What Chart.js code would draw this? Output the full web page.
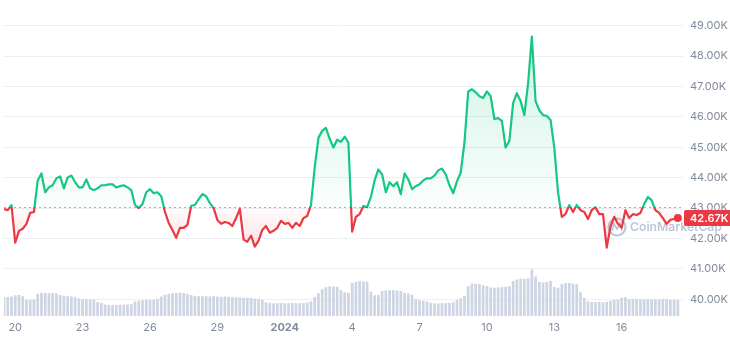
<!DOCTYPE html>
<html>
<head>
<meta charset="utf-8">
<script src="https://cdn.jsdelivr.net/npm/chart.js@4.4.1/dist/chart.umd.min.js"></script>
<style>
    html, body { margin: 0; padding: 0; background: #ffffff; }
    canvas { display: block; }
</style>
</head>
<body>
<canvas id="btcChart" width="730" height="338"></canvas>
<script>

const OPEN_PRICE = 43.04;      // K USD, reference line for up / down colouring
const START_DAY = -0.5;        // Dec 19, 12:00 (day 0 = Dec 20)
const STEP_DAYS = 1 / 6;       // one sample every 4 hours

const UP = '#16c784';
const DOWN = '#ea3943';
const AXIS_TEXT = '#808a9d';

// BTC price, thousands of USD
const prices = [
    42.97, 42.93, 43.10, 41.86, 42.25, 42.32, 42.48, 42.84, 42.87, 43.91,
    44.14, 43.52, 43.68, 43.75, 43.98, 44.04, 43.65, 44.01, 44.07, 43.85,
    43.68, 43.68, 43.94, 43.65, 43.59, 43.65, 43.75, 43.75, 43.78, 43.78,
    43.68, 43.72, 43.75, 43.68, 43.59, 43.10, 43.00, 43.13, 43.52, 43.62,
    43.49, 43.52, 43.39, 42.87, 42.51, 42.28, 42.02, 42.35, 42.35, 42.45,
    43.07, 43.10, 43.29, 43.46, 43.39, 43.16, 43.00, 42.61, 42.48, 42.54,
    42.51, 42.41, 42.67, 42.97, 41.96, 41.89, 42.09, 41.73, 41.93, 42.28,
    42.41, 42.19, 42.25, 42.35, 42.58, 42.48, 42.51, 42.35, 42.51, 42.41,
    42.67, 42.74, 43.10, 44.34, 45.31, 45.54, 45.64, 45.28, 44.99, 45.25,
    45.18, 45.35, 45.15, 42.22, 42.71, 42.80, 43.07, 43.03, 43.36, 43.91,
    44.27, 44.11, 43.52, 43.85, 43.72, 43.85, 43.46, 44.14, 43.94, 43.62,
    43.72, 43.78, 43.91, 43.98, 43.98, 44.07, 44.24, 44.30, 44.11, 43.75,
    43.49, 43.88, 44.17, 45.15, 46.84, 46.91, 46.81, 46.68, 46.62, 46.84,
    46.68, 45.93, 45.96, 45.87, 44.99, 45.21, 46.45, 46.78, 46.52, 46.06,
    47.10, 48.64, 46.52, 46.22, 46.06, 46.03, 45.90, 44.99, 43.52, 42.71,
    42.80, 43.10, 42.87, 43.10, 42.93, 42.87, 42.64, 42.93, 43.03, 42.80,
    42.80, 41.70, 42.38, 42.71, 42.48, 42.35, 42.93, 42.67, 42.80, 42.77,
    42.84, 43.13, 43.36, 43.26, 42.93, 42.84, 42.67, 42.48, 42.61, 42.64,
    42.67
];

// traded volume per 4h bucket, billions of USD
const volumes = [
    6.2, 6.3, 6.4, 6.8, 6.9, 6.5, 5.3, 5.2, 5.4, 7.3,
    7.6, 7.6, 7.5, 7.6, 7.4, 6.9, 6.7, 6.5, 6.4, 6.3,
    5.8, 5.6, 5.5, 5.5, 5.4, 4.6, 4.3, 3.8, 3.6, 3.6,
    3.6, 3.7, 3.7, 3.8, 3.9, 4.8, 5.1, 5.2, 5.3, 5.2,
    5.3, 5.6, 6.4, 7.0, 7.3, 7.5, 7.6, 7.7, 7.5, 7.3,
    6.9, 6.6, 6.5, 6.5, 6.5, 6.4, 6.5, 6.4, 6.3, 6.4,
    6.3, 6.2, 6.2, 6.1, 6.0, 6.0, 5.9, 5.7, 5.6, 5.3,
    4.5, 4.3, 4.2, 4.2, 4.3, 4.2, 4.2, 4.3, 4.2, 4.2,
    4.3, 4.4, 4.8, 6.3, 7.5, 8.8, 9.5, 9.8, 9.7, 9.6,
    8.5, 7.8, 7.6, 10.8, 11.2, 11.4, 11.4, 11.3, 8.0, 6.8,
    6.9, 8.2, 8.4, 8.5, 8.5, 8.4, 8.3, 7.6, 7.4, 7.0,
    5.5, 5.2, 5.0, 4.8, 4.3, 4.2, 4.1, 4.2, 4.3, 4.3,
    4.5, 5.3, 5.8, 6.6, 9.8, 10.7, 10.6, 10.5, 10.1, 9.8,
    9.4, 9.3, 9.4, 9.5, 9.6, 9.8, 11.5, 12.0, 12.3, 12.2,
    12.4, 15.3, 13.0, 11.2, 11.0, 11.2, 11.6, 9.5, 9.3, 10.5,
    10.8, 10.9, 10.7, 10.5, 7.8, 6.0, 4.8, 4.6, 4.5, 4.6,
    4.5, 4.7, 5.0, 5.3, 5.4, 6.0, 6.2, 5.6, 5.5, 5.6,
    5.4, 5.5, 5.6, 5.5, 5.5, 5.4, 5.6, 5.5, 5.3, 5.3,
    5.2
];

const dayTicks = [0, 3, 6, 9, 12, 15, 18, 21, 24, 27];
const dayLabels = ['20', '23', '26', '29', '2024', '4', '7', '10', '13', '16'];
const priceTicks = [40, 41, 42, 43, 44, 45, 46, 47, 48, 49];


function toPoints(values) {

    return values.map((v, i) => ({ x: START_DAY + i * STEP_DAYS, y: v }));
}


// fraction of the chart height where the open price sits
function openFraction(chart) {

    const { chartArea, scales } = chart;
    const y0 = scales.y.getPixelForValue(OPEN_PRICE);
    const f = (y0 - chartArea.top) / (chartArea.bottom - chartArea.top);
    return Math.min(Math.max(f, 0), 1);
}


function lineColor(context) {

    const chart = context.chart;
    if (!chart.chartArea || !chart.scales.y) {
        return UP;
    }
    const { top, bottom } = chart.chartArea;
    const f = openFraction(chart);
    const g = chart.ctx.createLinearGradient(0, top, 0, bottom);
    g.addColorStop(0, UP);
    g.addColorStop(f, UP);
    g.addColorStop(f, DOWN);
    g.addColorStop(1, DOWN);
    return g;
}


function areaColor(context) {

    const chart = context.chart;
    if (!chart.chartArea || !chart.scales.y) {
        return 'rgba(22, 199, 132, 0.1)';
    }
    const { top, bottom } = chart.chartArea;
    const f = openFraction(chart);
    const g = chart.ctx.createLinearGradient(0, top, 0, bottom);
    g.addColorStop(0, 'rgba(22, 199, 132, 0.24)');
    g.addColorStop(f, 'rgba(22, 199, 132, 0.02)');
    g.addColorStop(f, 'rgba(234, 57, 67, 0.02)');
    g.addColorStop(1, 'rgba(234, 57, 67, 0.34)');
    return g;
}


const overlayPlugin = {

    id: 'overlay',

    // watermark sits under the grid and axis labels
    beforeDraw(chart) {

        const { ctx } = chart;

        ctx.save();
        ctx.strokeStyle = 'rgba(160, 173, 199, 0.7)';
        ctx.fillStyle = 'rgba(160, 173, 199, 0.7)';
        ctx.lineWidth = 2;
        ctx.beginPath();
        ctx.arc(617, 227, 8.5, 0, Math.PI * 2);
        ctx.stroke();
        ctx.lineWidth = 1.6;
        ctx.beginPath();
        ctx.moveTo(612, 231);
        ctx.lineTo(614, 223.5);
        ctx.lineTo(617, 229);
        ctx.lineTo(620, 223.5);
        ctx.lineTo(622, 231);
        ctx.stroke();
        ctx.font = '600 16px Inter';
        const w = ctx.measureText('CoinMarketCap').width;
        ctx.font = '600 ' + (16 * 92 / w).toFixed(2) + 'px Inter';
        ctx.textBaseline = 'middle';
        ctx.textAlign = 'left';
        ctx.fillText('CoinMarketCap', 630, 227);
        ctx.restore();
    },

    beforeDatasetsDraw(chart) {

        const { ctx, chartArea, scales } = chart;
        const y0 = Math.round(scales.y.getPixelForValue(OPEN_PRICE)) + 0.5;

        // open price reference line
        ctx.save();
        ctx.strokeStyle = '#a9b2c2';
        ctx.lineWidth = 1;
        ctx.setLineDash([2, 3]);
        ctx.beginPath();
        ctx.moveTo(chartArea.left, y0);
        ctx.lineTo(chartArea.right, y0);
        ctx.stroke();
        ctx.restore();
    },

    afterDraw(chart) {

        const { ctx, chartArea, scales } = chart;
        const last = prices[prices.length - 1];
        const y = scales.y.getPixelForValue(last);

        ctx.save();
        ctx.fillStyle = last >= OPEN_PRICE ? UP : DOWN;
        ctx.beginPath();
        ctx.roundRect(chartArea.right + 1, y - 8, 50, 16, 2);
        ctx.fill();
        ctx.fillStyle = '#ffffff';
        ctx.font = '600 11px Inter';
        ctx.textBaseline = 'middle';
        ctx.textAlign = 'left';
        ctx.fillText(last.toFixed(2) + 'K', chartArea.right + 7, y + 0.5);
        ctx.restore();
    }
};


function initializeChart() {

    const ctx = document.getElementById('btcChart').getContext('2d');
    const lastIndex = prices.length - 1;

    new Chart(ctx, {

        type: 'line',
        data: {

            datasets: [{

                label: 'Price',
                data: toPoints(prices),
                yAxisID: 'y',
                order: 0,
                borderColor: lineColor,
                backgroundColor: areaColor,
                borderWidth: 2.2,
                borderJoinStyle: 'round',
                tension: 0,
                fill: { value: OPEN_PRICE },
                pointRadius: (c) => c.dataIndex === lastIndex ? 4 : 0,
                pointBackgroundColor: DOWN,
                pointBorderWidth: 0
            }, {

                type: 'bar',
                label: 'Volume',
                data: toPoints(volumes),
                yAxisID: 'vol',
                order: 1,
                backgroundColor: '#cdd4e3',
                barPercentage: 0.72,
                categoryPercentage: 1
            }]
        },
        options: {

            responsive: false,
            devicePixelRatio: 1,
            animation: false,
            layout: { padding: 0 },
            plugins: {

                legend: { display: false },
                tooltip: { enabled: false }
            },
            scales: {

                x: {

                    type: 'linear',
                    offset: false,
                    min: -0.5,
                    max: 29.73,
                    grid: { display: false, drawTicks: false, offset: false },
                    border: { display: false },
                    afterBuildTicks: (axis) => {
                        axis.ticks = dayTicks.map(v => ({ value: v }));
                    },
                    afterFit: (axis) => {
                        axis.height = 22;
                        axis.paddingLeft = 0;
                        axis.paddingRight = 0;
                    },
                    ticks: {

                        autoSkip: false,
                        maxRotation: 0,
                        padding: 5,
                        color: AXIS_TEXT,
                        font: (c) => ({
                            family: 'Inter',
                            size: 11,
                            weight: c.tick && c.tick.value === 12 ? '700' : '400'
                        }),
                        callback: (value) => dayLabels[dayTicks.indexOf(value)]
                    }
                },
                y: {

                    position: 'right',
                    min: 39.448,
                    max: 49.715,
                    grid: { color: '#eceff3', drawTicks: false },
                    border: { display: false },
                    afterBuildTicks: (axis) => {
                        axis.ticks = priceTicks.map(v => ({ value: v }));
                    },
                    afterFit: (axis) => {
                        axis.width = 47;
                        axis.paddingTop = 0;
                        axis.paddingBottom = 0;
                    },
                    ticks: {

                        padding: 7,
                        color: AXIS_TEXT,
                        font: { family: 'Inter', size: 11 },
                        callback: (value) => value.toFixed(2) + 'K'
                    }
                },
                vol: {

                    display: false,
                    min: 0,
                    max: 102.6
                }
            }
        },
        plugins: [overlayPlugin]
    });
}


window.onload = function () {

    initializeChart();
};

</script>
</body>
</html>
